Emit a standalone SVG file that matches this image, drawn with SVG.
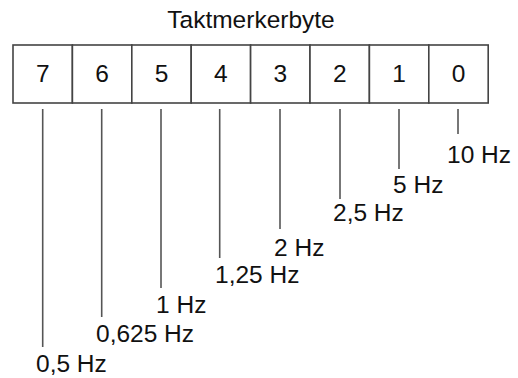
<svg xmlns="http://www.w3.org/2000/svg" width="518" height="378" viewBox="0 0 518 378">
<style>
text{font-family:"Liberation Sans",Arial,sans-serif;font-size:24.5px;fill:#111}
.c{text-anchor:middle}
.box{fill:#fff;stroke:#444;stroke-width:1.6}
.ln{stroke:#555;stroke-width:1.6;fill:none}
</style>
<rect width="518" height="378" fill="#fff"/>
<text id="title" class="c" x="251" y="28">Taktmerkerbyte</text>
<g id="bit7"><rect class="box" x="13" y="45" width="59.4" height="58"/><text class="c" x="42.7" y="82">7</text></g>
<g id="bit6"><rect class="box" x="72.4" y="45" width="59.4" height="58"/><text class="c" x="102" y="82">6</text></g>
<g id="bit5"><rect class="box" x="131.8" y="45" width="59.4" height="58"/><text class="c" x="161.5" y="82">5</text></g>
<g id="bit4"><rect class="box" x="191.2" y="45" width="59.4" height="58"/><text class="c" x="220.9" y="82">4</text></g>
<g id="bit3"><rect class="box" x="250.6" y="45" width="59.4" height="58"/><text class="c" x="280.3" y="82">3</text></g>
<g id="bit2"><rect class="box" x="310" y="45" width="59.4" height="58"/><text class="c" x="339.7" y="82">2</text></g>
<g id="bit1"><rect class="box" x="369.4" y="45" width="59.4" height="58"/><text class="c" x="399.1" y="82">1</text></g>
<g id="bit0"><rect class="box" x="428.8" y="45" width="59.4" height="58"/><text class="c" x="458.5" y="82">0</text></g>
<g id="connectors">
<line class="ln" x1="42.7" y1="109" x2="42.7" y2="347"/>
<line class="ln" x1="101.7" y1="109" x2="101.7" y2="317"/>
<line class="ln" x1="161" y1="109" x2="161" y2="288"/>
<line class="ln" x1="219.7" y1="109" x2="219.7" y2="258"/>
<line class="ln" x1="280" y1="109" x2="280" y2="229"/>
<line class="ln" x1="340" y1="109" x2="340" y2="199"/>
<line class="ln" x1="399" y1="109" x2="399" y2="169"/>
<line class="ln" x1="458" y1="109" x2="458" y2="134"/>
</g>
<g id="labels">
<text x="36" y="372">0,5 Hz</text>
<text x="96" y="342">0,625 Hz</text>
<text x="156" y="313">1 Hz</text>
<text x="215" y="283">1,25 Hz</text>
<text x="274" y="256">2 Hz</text>
<text x="333" y="221">2,5 Hz</text>
<text x="393" y="193">5 Hz</text>
<text x="447" y="163">10 Hz</text>
</g>
</svg>
